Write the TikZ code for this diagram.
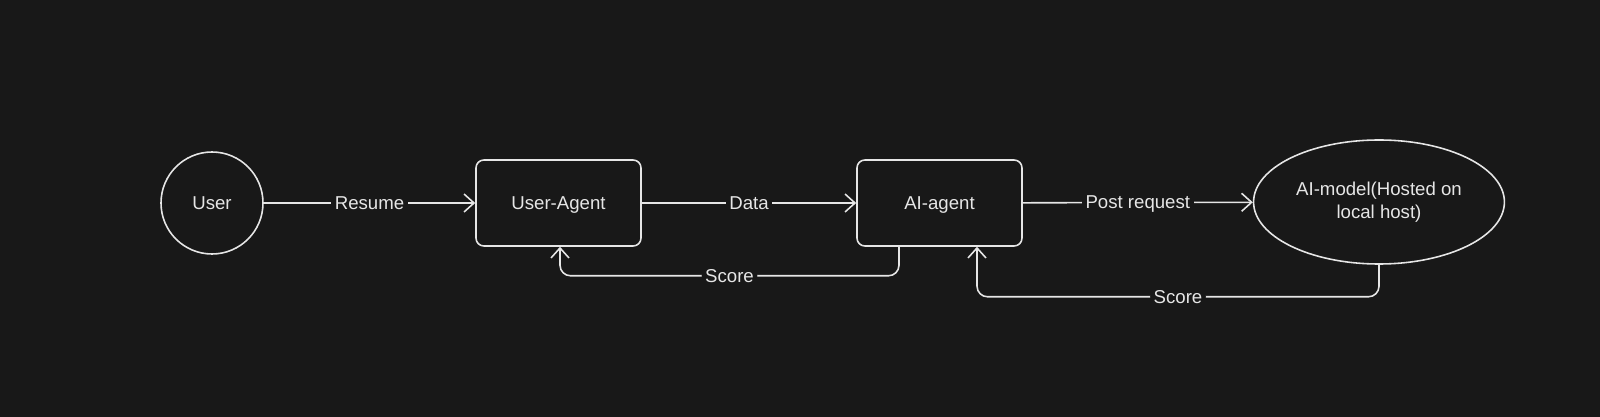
\documentclass[tikz,border=0pt]{standalone}
\usepackage{fontspec}
\setmainfont{Liberation Sans}
\usepackage{tikz}
\usetikzlibrary{arrows.meta,shapes.geometric}
\definecolor{bgdark}{HTML}{181818}
\definecolor{inkwhite}{HTML}{E6E6E6}
\tikzset{
	box/.style={draw=inkwhite, line width=0.9pt, rounded corners=4.5pt, minimum width=3.3cm, minimum height=1.72cm},
	conn/.style={draw=inkwhite, line width=0.9pt, -{Straight Barb[length=2mm,width=3.6mm]}},
	lbl/.style={fill=bgdark, text=inkwhite, inner sep=2pt, text depth=0pt}
}

\begin{document}
\begin{tikzpicture}[every node/.style={text=inkwhite, font=\fontsize{10.6}{13}\selectfont}]
			%%%%% START %%%%%
			\fill[bgdark] (0, 0) rectangle (32, 8.34);
			
			\node[draw=inkwhite, line width=0.9pt, circle, minimum size=2.04cm, text depth=0pt] (user) at (4.24, 4.28) {User};
			\node[box, text depth=0pt] (useragent) at (11.17, 4.28) {User-Agent};
			\node[box, text depth=0pt] (aiagent) at (18.79, 4.28) {AI-agent};
			\node[draw=inkwhite, line width=0.9pt, ellipse, minimum width=4.2cm, minimum height=2.48cm, align=center] (aimodel) at (27.58, 4.30) {AI-model(Hosted on\\local host)};
			
			\draw[conn] (user) -- node[lbl] {Resume} (useragent);
			\draw[conn] (useragent) -- node[lbl] {Data} (aiagent);
			\draw[conn] (aiagent) -- node[lbl] {Post request} (aimodel);
			
			\draw[conn, rounded corners=6pt] ([xshift=-0.81cm]aiagent.south) -- ++(0, -0.58) -| node[lbl, pos=0.25] {Score} ([xshift=0.03cm]useragent.south);
			\draw[conn, rounded corners=6pt] (aimodel.south) -- ++(0, -0.64) -| node[lbl, pos=0.25] {Score} ([xshift=0.75cm]aiagent.south);
			%%%%% END %%%%%
		\end{tikzpicture}
\end{document}
